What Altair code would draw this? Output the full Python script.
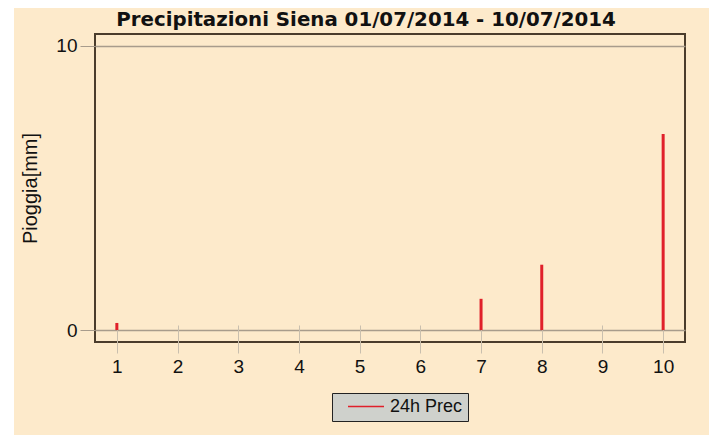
import altair as alt
import pandas as pd

days = [1, 2, 3, 4, 5, 6, 7, 8, 9, 10]
rain_mm = [0.25, 0, 0, 0, 0, 0, 1.1, 2.3, 0, 6.9]
series_name = "24h Prec"
title_text = "Precipitazioni Siena 01/07/2014 - 10/07/2014"
y_ticks = [0, 10]

df = pd.DataFrame({"day": days, "rain": rain_mm, "series": [series_name] * len(days)})

BG = "#fdeacb"
FRAME = "#4a3c2c"
GRID = "#a89c8c"

xscale = alt.Scale(domain=[0.64, 10.36], nice=False, zero=False)
yscale = alt.Scale(domain=[-0.42, 10.42], nice=False, zero=False)

bars = alt.Chart(df).mark_rule(strokeWidth=3).encode(
    x=alt.X("day:Q", scale=xscale,
            axis=alt.Axis(values=days, title=None, grid=False, domain=False,
                          offset=-17, tickSize=28, tickColor="#c9bfae", tickWidth=1,
                          labelFontSize=19, labelFont="Liberation Sans", labelColor="#111",
                          labelPadding=4, format="d")),
    y=alt.Y("rain:Q", scale=yscale,
            axis=alt.Axis(values=y_ticks, title="Pioggia[mm]", grid=True, gridColor=GRID,
                          gridWidth=1.5, domain=False, tickSize=15, tickColor=GRID,
                          labelFontSize=19, labelFont="Liberation Sans", labelColor="#111",
                          labelPadding=3, titleFontSize=20, titleFont="Liberation Sans",
                          titleFontWeight="normal", titleColor="#111", titlePadding=15,
                          format="d")),
    y2=alt.datum(0),
    color=alt.Color("series:N",
                    scale=alt.Scale(domain=[series_name], range=["#e0202a"]),
                    legend=alt.Legend(title=None, orient="none", legendX=237, legendY=359,
                                      fillColor="#cfd1cc", strokeColor="#222", padding=5,
                                      symbolType="stroke", symbolSize=1296, clipHeight=17,
                                      symbolStrokeWidth=1.5, symbolOffset=10,
                                      labelFontSize=18, labelFont="Liberation Sans",
                                      labelColor="#111", labelOffset=5)),
)

meta = pd.DataFrame({"t": [title_text]})

strip = alt.Chart(meta).mark_rule(color="white", strokeWidth=6).encode(
    x=alt.value(-84), y=alt.value(-30), y2=alt.value(410)
)

title = alt.Chart(meta).mark_text(
    font="DejaVu Sans", fontSize=19.8, fontWeight="bold", color="#111",
    align="center", baseline="middle"
).encode(text="t:N", x=alt.value(271), y=alt.value(-14))

chart = alt.layer(bars, strip, title).properties(
    width=590, height=308,
    autosize=alt.AutoSizeParams(type="none"),
    padding={"left": 87, "top": 26, "right": 24, "bottom": 93},
    background=BG,
).configure_view(stroke=FRAME, strokeWidth=2)

chart.save("out.html", embed_options={"renderer": "svg", "actions": False})
